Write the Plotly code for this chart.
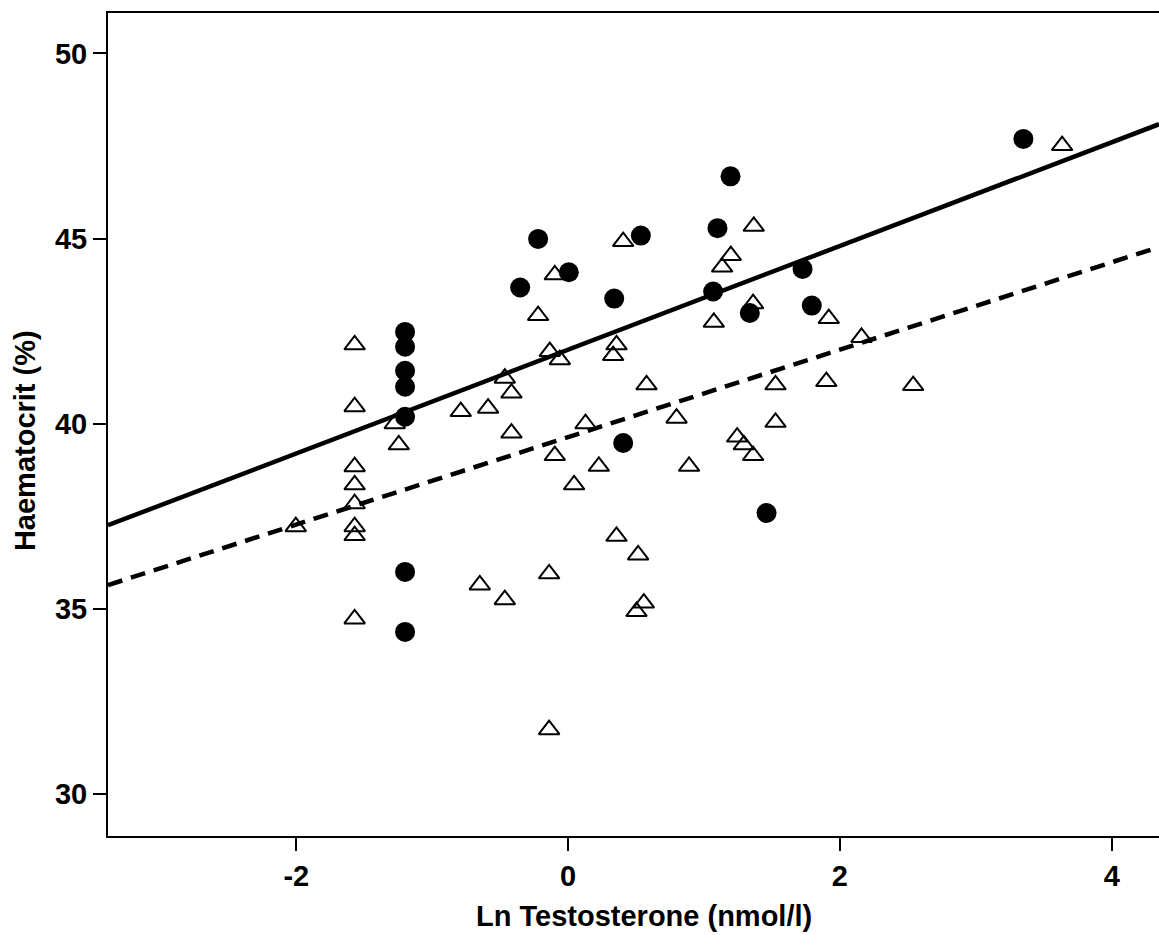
import plotly.graph_objects as go

# Filled circles (group 1)
circ_x = [-1.20, -1.20, -1.20, -1.20, -1.20, -1.20, -1.20,
          -0.353, -0.221, 0.005, 0.339, 0.405, 0.535,
          1.067, 1.099, 1.195, 1.337, 1.46, 1.725, 1.793, 3.35]
circ_y = [42.48, 42.08, 41.43, 41.00, 40.19, 36.00, 34.38,
          43.68, 44.99, 44.09, 43.38, 39.48, 45.08,
          43.57, 45.28, 46.68, 42.99, 37.59, 44.18, 43.19, 47.69]

# Open triangles (group 2)
tri_x = [-2.004, -1.571, -1.571, -1.571, -1.571, -1.571, -1.571, -1.571, -1.571,
         -1.276, -1.246, -0.79, -0.589, -0.466, -0.417, -0.417, -0.65, -0.466,
         -0.221, -0.135, -0.098, -0.061, -0.098, 0.044, -0.14, -0.14,
         0.128, 0.226, 0.331, 0.356, 0.405, 0.356, 0.515, 0.503, 0.557,
         0.577, 0.798, 0.89, 1.072, 1.133, 1.197, 1.244, 1.293, 1.361,
         1.361, 1.366, 1.526, 1.526, 1.918, 1.90, 2.159, 2.539, 3.635]
tri_y = [37.22, 42.13, 40.46, 38.84, 38.35, 37.84, 37.22, 36.98, 34.73,
         40.00, 39.43, 40.33, 40.42, 41.23, 40.83, 39.75, 35.65, 35.25,
         42.92, 41.95, 44.02, 41.73, 39.14, 38.35, 35.95, 31.74,
         40.00, 38.85, 41.84, 42.13, 44.92, 36.96, 36.46, 34.93, 35.16,
         41.05, 40.15, 38.85, 42.74, 44.23, 44.54, 39.64, 39.43, 39.14,
         43.24, 45.33, 41.05, 40.04, 42.84, 41.14, 42.33, 41.03, 47.51]

# Fit lines: intercept, slope
solid_fit = (42.0, 1.40)
dash_fit = (39.64, 1.18)

x_range = [-3.386, 4.348]
y_range = [28.87, 51.09]

x_ticks = [-2, 0, 2, 4]
y_ticks = [30, 35, 40, 45, 50]

x_title = "Ln Testosterone (nmol/l)"
y_title = "Haematocrit (%)"

fig = go.Figure()

fig.add_trace(go.Scatter(
    x=tri_x, y=tri_y, mode="markers",
    marker=dict(symbol="triangle-up-open", size=18, color="black",
                line=dict(width=2, color="black")),
    showlegend=False))

fig.add_trace(go.Scatter(
    x=circ_x, y=circ_y, mode="markers",
    marker=dict(symbol="circle", size=20, color="black",
                line=dict(width=0)),
    showlegend=False))

lx = x_range
fig.add_trace(go.Scatter(
    x=lx, y=[solid_fit[0] + solid_fit[1] * v for v in lx], mode="lines",
    line=dict(color="black", width=4.5), showlegend=False))
fig.add_trace(go.Scatter(
    x=lx, y=[dash_fit[0] + dash_fit[1] * v for v in lx], mode="lines",
    line=dict(color="black", width=4.5, dash="15px,9px"), showlegend=False))

tickfont = dict(family="Liberation Sans", size=29, color="black", weight="bold")
titlefont = dict(family="Liberation Sans", size=29, color="black", weight="bold")

fig.update_layout(
    width=1159, height=935,
    margin=dict(l=108, r=0, t=13, b=99),
    paper_bgcolor="white", plot_bgcolor="white",
    xaxis=dict(range=x_range, tickvals=x_ticks, ticktext=[str(v) for v in x_ticks],
               showgrid=False, zeroline=False, showline=True, linecolor="black",
               linewidth=2, mirror=True, ticks="outside", ticklen=13,
               tickwidth=2, tickcolor="black", tickfont=tickfont),
    yaxis=dict(range=y_range, tickvals=y_ticks, ticktext=[str(v) for v in y_ticks],
               showgrid=False, zeroline=False, showline=True, linecolor="black",
               linewidth=2, ticks="outside", ticklen=13, tickwidth=2,
               tickcolor="black", tickfont=tickfont),
    annotations=[
        dict(text=x_title, xref="paper", yref="paper", x=0.51, y=-0.097,
             xanchor="center", yanchor="middle", showarrow=False, font=titlefont),
        dict(text=y_title, xref="paper", yref="paper", x=-0.079, y=0.481,
             xanchor="center", yanchor="middle", showarrow=False, textangle=-90,
             font=titlefont),
    ],
)

fig.write_html("out.html")
